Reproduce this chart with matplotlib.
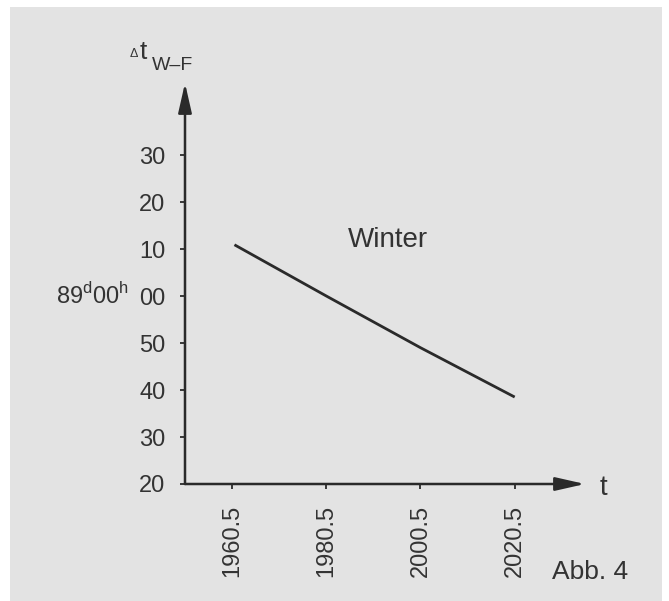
import numpy as np
import matplotlib
matplotlib.use("Agg")
import matplotlib.pyplot as plt
from matplotlib.patches import Rectangle
import matplotlib.transforms as mtransforms

plt.rcParams["font.family"] = ["Liberation Sans", "DejaVu Sans"]
plt.rcParams["mathtext.fontset"] = "custom"
plt.rcParams["mathtext.rm"] = "Liberation Sans"

# data: years and deviation in minutes from 89d 00h
years = [1961.0, 1980.5, 2000.5, 2020.5]
minutes = [10.9, 0.0, -11.0, -21.5]

xticks = [1960.5, 1980.5, 2000.5, 2020.5]
xtick_labels = ["1960.5", "1980.5", "2000.5", "2020.5"]
yticks = [-40, -30, -20, -10, 0, 10, 20, 30]
ytick_labels = ["20", "30", "40", "50", "00", "10", "20", "30"]

ink = "#2a2a2a"
W, H = 669, 601

fig = plt.figure(figsize=(W / 100, H / 100), dpi=100)
fig.patch.set_facecolor("white")
# scanned page background
fig.patches.append(Rectangle((10 / W, 0), (662 - 10) / W, (601 - 7) / H,
                             transform=fig.transFigure, facecolor="#e3e3e3",
                             edgecolor="none", zorder=-5))

# axes origin at pixel (185, 484), arrow tips at x=585 and y=83
x0, y0 = 185, 484
ax = fig.add_axes([x0 / W, (H - y0) / H, (585 - x0) / W, (y0 - 83) / H])
ax.set_facecolor("none")
px_year = 4.71
px_min = 4.7
ax.set_xlim(1950.5, 1950.5 + (585 - x0) / px_year)
ax.set_ylim(-40, -40 + (y0 - 83) / px_min)

for s in ax.spines.values():
    s.set_visible(False)

# axis arrows
arrow = dict(arrowstyle="-|>,head_length=1.5,head_width=0.34", lw=1.8,
             color=ink, shrinkA=0, shrinkB=0, mutation_scale=12)
ax.annotate("", xy=(1, 0), xytext=(0, 0), xycoords="axes fraction",
            textcoords="axes fraction", arrowprops=arrow)
ax.annotate("", xy=(0, 1), xytext=(0, 0), xycoords="axes fraction",
            textcoords="axes fraction", arrowprops=arrow)

ax.plot(years, minutes, color=ink, lw=2.0, solid_capstyle="butt")

ax.set_xticks(xticks)
ax.set_xticklabels(xtick_labels, rotation=90)
ax.set_yticks(yticks)
ax.set_yticklabels(ytick_labels)
ax.tick_params(axis="both", colors=ink, labelcolor="#333333", labelsize=17,
               length=3.5, width=1.3, direction="out")
ax.tick_params(axis="y", pad=10.5)
ax.tick_params(axis="x", pad=11.5)

ax.text(1985.1, 11.9, "Winter", fontsize=20, color="#333333",
        ha="left", va="center")

# 89d00h label next to the 00 tick
trans = mtransforms.blended_transform_factory(fig.transFigure, ax.transData)
ax.text(129 / W, 0, r"89$^{\rm d}$00$^{\rm h}$", transform=trans, fontsize=17,
        color="#333333", ha="right", va="center")

# axis names
fig.text(603 / W, 1 - 488 / H, "t", fontsize=20, color="#333333",
         ha="center", va="center")
fig.text(134 / W, 1 - 54 / H, "\u0394", fontsize=9, color="#333333",
         ha="center", va="center")
fig.text(143 / W, 1 - 52 / H, "t", fontsize=19, color="#333333",
         ha="center", va="center")
fig.text(152 / W, 1 - 65 / H, "W\u2013F", fontsize=14, color="#333333",
         ha="left", va="center")

fig.text(552 / W, 1 - 572 / H, "Abb. 4", fontsize=19, color="#333333",
         ha="left", va="center")

fig.savefig("out.png", dpi=100)
